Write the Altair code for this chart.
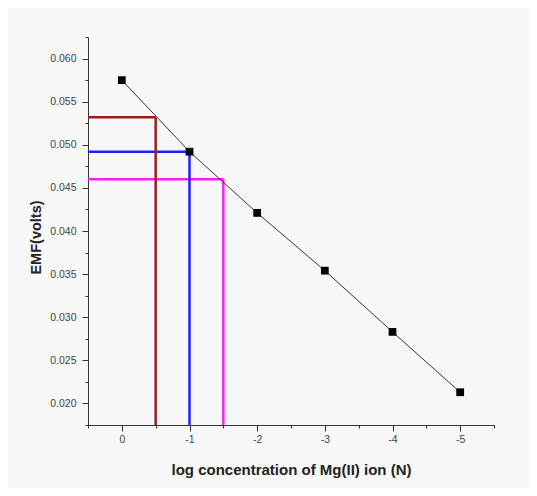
import altair as alt
import pandas as pd

# data
log_conc = [0, -1, -2, -3, -4, -5]
emf = [0.0575, 0.0492, 0.0421, 0.0354, 0.0283, 0.0213]

guide_x = [-0.5, -1.0, -1.5]
guide_y = [0.0532, 0.0492, 0.0460]
guide_color = ["#9b1c1c", "#1f1fff", "#ff1aff"]

x_major = [0, -1, -2, -3, -4, -5]
x_minor = [0.5, -0.5, -1.5, -2.5, -3.5, -4.5, -5.5]
y_major = [0.020, 0.025, 0.030, 0.035, 0.040, 0.045, 0.050, 0.055, 0.060]
y_minor = [0.0175, 0.0225, 0.0275, 0.0325, 0.0375, 0.0425, 0.0475, 0.0525, 0.0575, 0.0625]

X_DOM = [-5.5, 0.5]
Y_DOM = [0.0175, 0.0625]

df = pd.DataFrame({"x": log_conc, "y": emf})
gd = pd.DataFrame({"gx": guide_x, "gy": guide_y, "c": guide_color,
                   "x0": [X_DOM[1]] * 3, "y0": [Y_DOM[0]] * 3})

FONT = "Liberation Sans"

xs = alt.Scale(domain=X_DOM, reverse=True, nice=False, zero=False)
ys = alt.Scale(domain=Y_DOM, nice=False, zero=False)

x_axis = alt.Axis(values=x_major, labelExpr="'' + datum.value", title="log concentration of Mg(II) ion (N)",
                  tickSize=6, tickColor="#333", domainColor="#333", grid=False,
                  labelFont=FONT, labelFontSize=10.5, labelColor="#444", labelPadding=3,
                  titleFont=FONT, titleFontSize=15, titleFontWeight="bold", titleColor="#222",
                  titlePadding=18, labelFlush=False)
y_axis = alt.Axis(values=y_major, format=".3f", title="EMF(volts)",
                  tickSize=6, tickColor="#333", domainColor="#333", grid=False,
                  labelFont=FONT, labelFontSize=10.5, labelColor="#444", labelPadding=6,
                  titleFont=FONT, titleFontSize=14.5, titleFontWeight="bold", titleColor="#222",
                  titlePadding=6, titleY=200, labelFlush=False)

line = alt.Chart(df).mark_line(color="#333", strokeWidth=1).encode(
    x=alt.X("x:Q", scale=xs, axis=x_axis),
    y=alt.Y("y:Q", scale=ys, axis=y_axis),
)
pts = alt.Chart(df).mark_point(shape="square", filled=True, color="black", size=60, opacity=1).encode(
    x=alt.X("x:Q", scale=xs, axis=x_axis),
    y=alt.Y("y:Q", scale=ys, axis=y_axis),
)
hrule = alt.Chart(gd).mark_rule(strokeWidth=2.5).encode(
    x=alt.X("x0:Q", scale=xs, axis=x_axis),
    x2="gx:Q",
    y=alt.Y("gy:Q", scale=ys, axis=y_axis),
    color=alt.Color("c:N", scale=None),
)
vrule = alt.Chart(gd).mark_rule(strokeWidth=2.5).encode(
    x=alt.X("gx:Q", scale=xs, axis=x_axis),
    y=alt.Y("y0:Q", scale=ys, axis=y_axis),
    y2="gy:Q",
    color=alt.Color("c:N", scale=None),
)

main = alt.layer(hrule, vrule, line, pts)

minor = alt.Chart(df).mark_point(opacity=0).encode(
    x=alt.X("x:Q", scale=xs, axis=alt.Axis(values=x_minor, labels=False, tickSize=3, tickColor="#333",
                                          domain=False, grid=False, title=None, orient="bottom")),
    y=alt.Y("y:Q", scale=ys, axis=alt.Axis(values=y_minor, labels=False, tickSize=3, tickColor="#333",
                                          domain=False, grid=False, title=None, orient="left")),
)

chart = alt.layer(main, minor).resolve_scale(x="independent", y="independent").properties(
    width=406, height=388,
    padding={"left": 80, "top": 29, "right": 35, "bottom": 63},
    autosize=alt.AutoSizeParams(type="none"),
    background="#f7f7f7",
).configure_view(stroke=None)

chart.save("out.html", embed_options={"renderer": "svg", "actions": False})
